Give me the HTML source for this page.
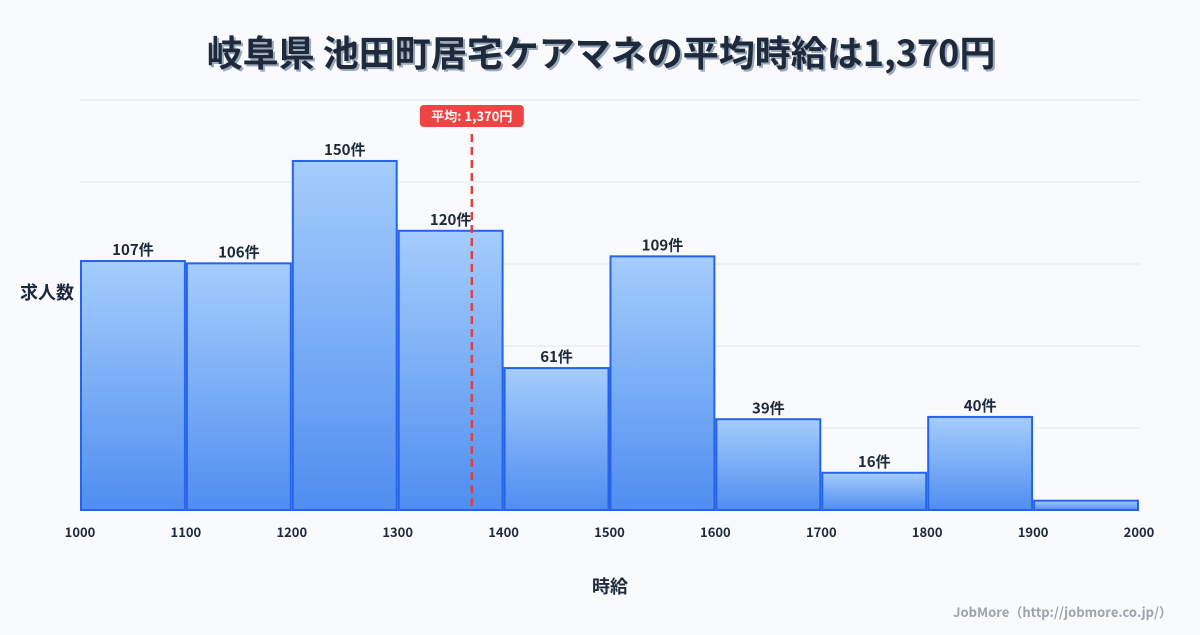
<!DOCTYPE html>
<html><head><meta charset="utf-8"><style>
body{margin:0;background:#f8fafc;width:1200px;height:630px;overflow:hidden;font-family:"Noto Sans CJK JP","Liberation Sans",sans-serif;}
svg text{font-family:"Noto Sans CJK JP","Liberation Sans",sans-serif;}
</style></head><body>
<svg id="c" width="1200" height="630" xmlns="http://www.w3.org/2000/svg">
<defs><linearGradient id="g" x1="0" y1="0" x2="0" y2="1"><stop offset="0" stop-color="#a5cdfc"/><stop offset="1" stop-color="#4f8ef0"/></linearGradient></defs>
<text x="603" y="68" text-anchor="middle" font-size="36" font-weight="bold" fill="#9aa8bb">岐阜県 池田町居宅ケアマネの平均時給は1,370円</text>
<text x="601" y="66" text-anchor="middle" font-size="36" font-weight="bold" fill="#1e293b">岐阜県 池田町居宅ケアマネの平均時給は1,370円</text>
<g id="grid"></g><g id="bars"></g><g id="xt"></g>
<text x="20" y="299" font-size="18" font-weight="bold" fill="#1e293b">求人数</text>
<text x="610" y="593" text-anchor="middle" font-size="18" font-weight="bold" fill="#1e293b">時給</text>
<text x="1172" y="617" text-anchor="end" font-size="13" font-weight="bold" fill="#9ca3af">JobMore（http://jobmore.co.jp/）</text>
</svg>
<script>
const binStarts=[1000,1100,1200,1300,1400,1500,1600,1700,1800,1900];
const counts=[107,106,150,120,61,109,39,16,40,4];
const labels=["107件","106件","150件","120件","61件","109件","39件","16件","40件",""];
const xTicks=[1000,1100,1200,1300,1400,1500,1600,1700,1800,1900,2000];
const meanValue=1370;
const meanLabel="平均: 1,370円";
const yMax=176.2;
const NS="http://www.w3.org/2000/svg";
const x=v=>80+(v-1000)/1000*1059, y=v=>510-v/yMax*410;
function mk(t,a,p){const e=document.createElementNS(NS,t);for(const k in a)e.setAttribute(k,a[k]);p.appendChild(e);return e;}
const grid=document.getElementById('grid');
for(let i=0;i<=5;i++){const gl=mk('line',{x1:80,x2:1140,y1:510-i*82,y2:510-i*82,stroke:'#e2e8f0'},grid);

}
const bars=document.getElementById('bars');
binStarts.forEach((b,i)=>{const x0=x(b)+1,x1=x(b+100)-1;
const r=mk('rect',{x:x0,y:y(counts[i]),width:x1-x0,height:510-y(counts[i]),fill:'url(#g)',stroke:'#2563eb','stroke-width':2},bars);


if(labels[i]){const t=mk('text',{x:(x0+x1)/2,y:y(counts[i])-6,'text-anchor':'middle','font-size':15,'font-weight':'bold',fill:'#1e293b'},bars);t.textContent=labels[i];

}});
const xt=document.getElementById('xt');
xTicks.forEach(v=>{const t=mk('text',{x:x(v),y:537,'text-anchor':'middle','font-size':13,'font-weight':'bold',fill:'#1e293b'},xt);t.textContent=v;

});
const mx=x(meanValue);
const ml=mk('line',{x1:mx,x2:mx,y1:134,y2:510,stroke:'#e53e3e','stroke-width':2.5,'stroke-dasharray':'8 5'},xt);


const mb=mk('rect',{x:mx-52,y:105,width:104,height:22,rx:4,fill:'#ef4444'},xt);


const mt=mk('text',{x:mx,y:121,'text-anchor':'middle','font-size':13,'font-weight':'bold',fill:'#fff'},xt);mt.textContent=meanLabel;


</script>
</body></html>
